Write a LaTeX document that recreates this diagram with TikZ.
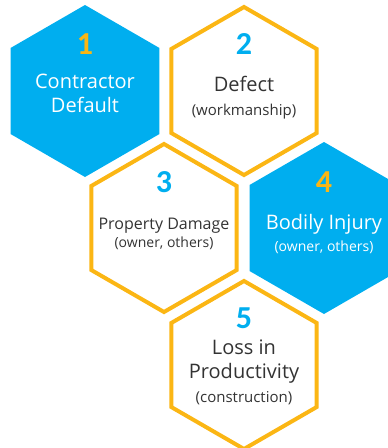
\documentclass[tikz,border=0pt]{standalone}
\usepackage{fontspec}
\setmainfont{Open Sans}
\newfontfamily\numfont{Carlito}
\usetikzlibrary{shapes.geometric}
\definecolor{hexblue}{HTML}{00AEEF}
\definecolor{hexgold}{HTML}{FBB614}
\definecolor{hextext}{HTML}{333333}

\begin{document}
\begin{tikzpicture}[x=1pt,y=-1pt,
    hexfill/.style={regular polygon,regular polygon sides=6,shape border rotate=30,minimum size=172pt,inner sep=0pt,fill=hexblue},
    hexline/.style={regular polygon,regular polygon sides=6,shape border rotate=30,minimum size=168pt,inner sep=0pt,draw=hexgold,line width=4pt},
    num/.style={anchor=base,inner sep=0pt,font=\numfont\bfseries\fontsize{32}{32}\selectfont},
    big/.style={anchor=base,inner sep=0pt,font=\fontsize{20}{24}\selectfont},
    small/.style={anchor=base,inner sep=0pt,font=\fontsize{14}{16}\selectfont}]
            \useasboundingbox (0,0) rectangle (388,448);
            % hexagons
            \node[hexfill] (h1) at (85,91){};
            \node[hexline] (h2) at (244,91){};
            \node[hexline] (h3) at (164,228){};
            \node[hexfill] (h4) at (324,228){};
            \node[hexline] (h5) at (244,365){};
            % 1
            \node[num,hexgold] (n1) at (85,54) {1};
            \node[big,white] (t1a) at (85,88) {Contractor};
            \node[big,white] (t1b) at (85,112) {Default};
            % 2
            \node[num,hexblue] (n2) at (244,54) {2};
            \node[big,hextext] (t2) at (244,91) {Defect};
            \node[small,hextext,font=\fontsize{15}{17}\selectfont] (s2) at (244,115) {(workmanship)};
            % 3
            \node[num,hexblue] (n3) at (164,192) {3};
            \node[big,hextext,font=\fontsize{16}{19}\selectfont] (t3) at (164,229) {Property Damage};
            \node[small,hextext] (s3) at (164,247) {(owner, others)};
            % 4
            \node[num,hexgold] (n4) at (324,192) {4};
            \node[big,white] (t4) at (324,229) {Bodily Injury};
            \node[small,white] (s4) at (324,251) {(owner, others)};
            % 5
            \node[num,hexblue] (n5) at (244,328) {5};
            \node[big,hextext] (t5a) at (244,354) {Loss in};
            \node[big,hextext] (t5b) at (244,378) {Productivity};
            \node[small,hextext,font=\fontsize{15}{17}\selectfont] (s5) at (244,402) {(construction)};
\end{tikzpicture}
\end{document}
